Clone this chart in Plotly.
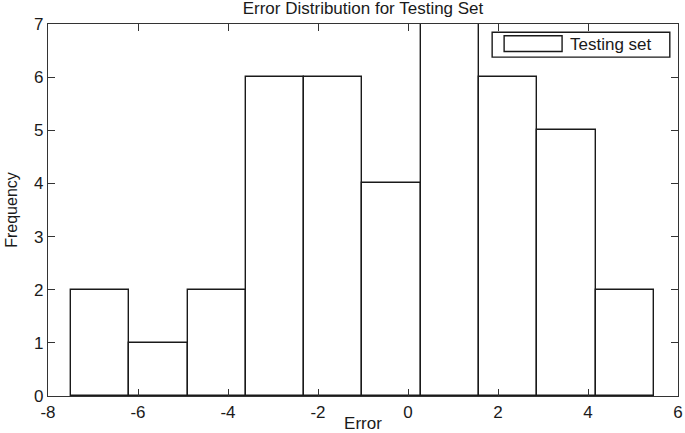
import plotly.graph_objects as go

# Histogram data (bin edges and counts)
bin_start = -7.49
bin_width = 1.2955
counts = [2, 1, 2, 6, 6, 4, 7, 6, 5, 2]
centers = [bin_start + bin_width * (i + 0.5) for i in range(len(counts))]

x_ticks = [-8, -6, -4, -2, 0, 2, 4, 6]
y_ticks = [0, 1, 2, 3, 4, 5, 6, 7]
legend_label = "Testing set"

FONT = "Liberation Sans, Arial, sans-serif"
NARROW = "Liberation Sans Narrow, Liberation Sans, Arial, sans-serif"
TXT = "#1a1a1a"

fig = go.Figure()
fig.add_trace(go.Bar(
    x=centers, y=counts, width=[bin_width] * len(counts),
    marker=dict(color="white", line=dict(color="#1a1a1a", width=1.4)),
    name=legend_label, showlegend=False, hoverinfo="skip",
))

axis_common = dict(
    showline=True, linecolor="#333333", linewidth=1.4, mirror="allticks",
    ticks="inside", ticklen=7, tickwidth=1.2, tickcolor="#333333",
    showgrid=False, zeroline=False,
    tickfont=dict(family=FONT, size=17, color=TXT),
)

fig.update_layout(
    width=685, height=433,
    margin=dict(l=48, r=7, t=24, b=37),
    paper_bgcolor="white", plot_bgcolor="white",
    font=dict(family=FONT, color=TXT),
    title=dict(text="Error Distribution for Testing Set", x=0.5, xref="paper",
               y=1, yref="container", yanchor="top", pad=dict(t=2),
               font=dict(family=FONT, size=17, color=TXT)),
    xaxis=dict(range=[-8, 6], tickvals=x_ticks, ticktext=[str(v) for v in x_ticks],
               title=dict(text="Error", standoff=1, font=dict(family=FONT, size=17, color=TXT)),
               automargin=False, **axis_common),
    yaxis=dict(range=[0, 7], tickvals=y_ticks, ticktext=[str(v) for v in y_ticks],
               title=dict(text="Frequency", standoff=12, font=dict(family=NARROW, size=16, color=TXT)),
               automargin=False, **axis_common),
    bargap=0,
)

# Legend drawn as a MATLAB-style box
fig.add_shape(type="rect", xref="paper", yref="paper", x0=0.705, x1=0.987, y0=0.911, y1=0.978,
              line=dict(color="#1a1a1a", width=1.4), fillcolor="white", layer="above")
fig.add_shape(type="rect", xref="paper", yref="paper", x0=0.724, x1=0.816, y0=0.926, y1=0.9685,
              line=dict(color="#1a1a1a", width=1.4), fillcolor="white", layer="above")
fig.add_annotation(text=legend_label, xref="paper", yref="paper", x=0.825, y=0.946,
                   xanchor="left", yanchor="middle", showarrow=False,
                   font=dict(family=FONT, size=17, color=TXT))

fig.write_html("out.html", config={"displayModeBar": False},
               post_script="document.body.style.margin='0';document.body.style.overflow='hidden';")
